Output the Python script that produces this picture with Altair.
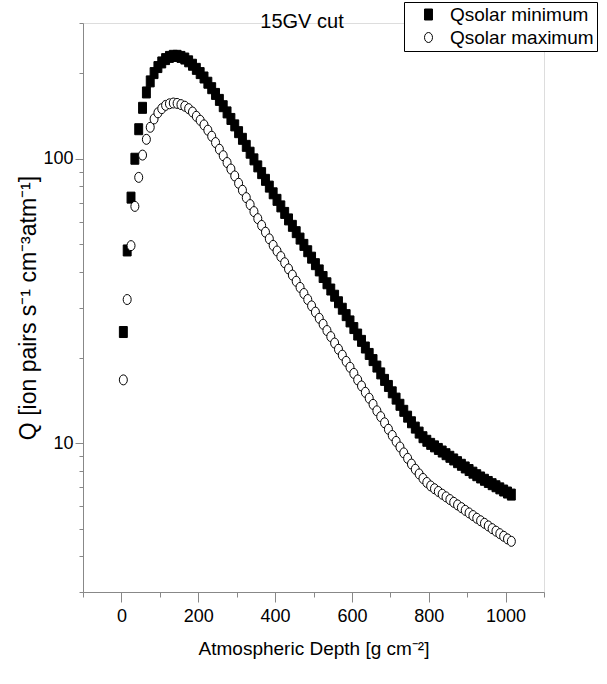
import altair as alt
import pandas as pd

# Atmospheric depth grid (g cm^-2)
depth = [5, 15, 25, 35, 45, 55, 65, 75, 85, 95,
         105, 115, 125, 135, 145, 155, 165, 175, 185, 195,
         205, 215, 225, 235, 245, 255, 265, 275, 285, 295,
         305, 315, 325, 335, 345, 355, 365, 375, 385, 395,
         405, 415, 425, 435, 445, 455, 465, 475, 485, 495,
         505, 515, 525, 535, 545, 555, 565, 575, 585, 595,
         605, 615, 625, 635, 645, 655, 665, 675, 685, 695,
         705, 715, 725, 735, 745, 755, 765, 775, 785, 795,
         805, 815, 825, 835, 845, 855, 865, 875, 885, 895,
         905, 915, 925, 935, 945, 955, 965, 975, 985, 995,
         1005, 1015]

# Q at solar minimum (filled squares)
q_min = [24.6, 47.6, 73, 100, 127, 151, 171, 187, 200, 210,
         218, 224, 228, 230, 230, 228, 225, 220, 214, 207,
         200, 193, 185, 177, 169, 161, 153, 145.5, 138, 131,
         124, 117.5, 111, 105, 99.5, 94, 89, 84.3, 79.8, 75.6,
         71.7, 68, 64.5, 61.2, 58.1, 55.2, 52.4, 49.8, 47.3, 44.9,
         42.6, 40.5, 38.4, 36.5, 34.7, 33.0, 31.3, 29.7, 28.2, 26.8,
         25.4, 24.1, 22.9, 21.7, 20.6, 19.6, 18.6, 17.6, 16.7, 15.9,
         15.1, 14.35, 13.65, 13.0, 12.4, 11.85, 11.35, 10.9, 10.5, 10.2,
         9.95, 9.75, 9.55, 9.35, 9.15, 8.96, 8.77, 8.58, 8.4, 8.22,
         8.05, 7.88, 7.72, 7.58, 7.44, 7.31, 7.18, 7.06, 6.94, 6.82,
         6.71, 6.6]

# Q at solar maximum (open circles)
q_max = [16.7, 32, 49.5, 68, 86, 103, 117, 129, 138, 145,
         150, 154, 156, 157, 156.5, 155, 153, 150, 146, 141,
         136.5, 131.5, 126, 120, 114, 108, 102.5, 97, 92, 87,
         82, 77.5, 73, 69, 65.2, 61.6, 58.3, 55.2, 52.3, 49.6,
         47.4, 45.3, 43.1, 41.0, 39.0, 37.1, 35.3, 33.6, 32.0, 30.4,
         28.9, 27.5, 26.2, 24.9, 23.7, 22.5, 21.4, 20.4, 19.4, 18.5,
         17.6, 16.7, 15.9, 15.1, 14.4, 13.7, 13.0, 12.4, 11.8, 11.2,
         10.65, 10.15, 9.7, 9.25, 8.85, 8.45, 8.1, 7.8, 7.52, 7.28,
         7.08, 6.92, 6.77, 6.62, 6.48, 6.34, 6.2, 6.07, 5.94, 5.81,
         5.69, 5.57, 5.45, 5.34, 5.23, 5.12, 5.01, 4.91, 4.81, 4.71,
         4.61, 4.52]

series_labels = ["Qsolar minimum", "Qsolar maximum"]
title_text = ["15GV cut"]
x_major = [0, 200, 400, 600, 800, 1000]
x_minor = [-100, 100, 300, 500, 700, 900, 1100]
y_major = [10, 100]
y_minor = [3, 4, 5, 6, 7, 8, 9, 20, 30, 40, 50, 60, 70, 80, 90, 200, 300]

df = pd.DataFrame({
    "depth": depth + depth,
    "Q": q_min + q_max,
    "series": [series_labels[0]] * len(depth) + [series_labels[1]] * len(depth),
})

FONT = "Liberation Sans, Arial, sans-serif"

# slightly tall symbols, as in the reference
SQUARE = "M-0.72,-1L0.72,-1L0.72,1L-0.72,1Z"
ELLIPSE = "M-0.8,0A0.8,1,0,1,0,0.8,0A0.8,1,0,1,0,-0.8,0Z"

xscale = alt.Scale(domain=[-100, 1100], nice=False, zero=False)
yscale = alt.Scale(type="log", domain=[3, 300], nice=False)

legend = alt.Legend(
    title=None, orient="none", legendX=321, legendY=-21,
    strokeColor="black", padding=3, fillColor="white",
    labelFont=FONT, labelFontSize=19, labelColor="black",
    symbolStrokeWidth=1, symbolOpacity=1, symbolOffset=12,
    rowPadding=3, labelOffset=12,
)

points = alt.Chart(df).mark_point(opacity=1, strokeWidth=1, filled=True).encode(
    x=alt.X("depth:Q", scale=xscale,
            axis=alt.Axis(values=x_major, title="Atmospheric Depth [g cm⁻²]", orient="bottom",
                          tickSize=10, labelPadding=5, grid=False, format="d",
                          titleFont=FONT, titleFontSize=19, titleFontWeight="normal",
                          titlePadding=14, labelFont=FONT, labelFontSize=18)),
    y=alt.Y("Q:Q", scale=yscale,
            axis=alt.Axis(values=y_major, title="Q [ion pairs s⁻¹ cm⁻³atm⁻¹]", orient="left",
                          tickSize=8, labelPadding=2, grid=False, format="d",
                          titleFont=FONT, titleFontSize=23, titleFontWeight="normal",
                          titlePadding=2, labelFont=FONT, labelFontSize=18)),
    shape=alt.Shape("series:N", scale=alt.Scale(domain=series_labels, range=[SQUARE, ELLIPSE]), legend=legend),
    fill=alt.Fill("series:N", scale=alt.Scale(domain=series_labels, range=["black", "white"]), legend=legend),
    stroke=alt.Stroke("series:N", scale=alt.Scale(domain=series_labels, range=["black", "black"]), legend=legend),
    size=alt.Size("series:N", scale=alt.Scale(domain=series_labels, range=[121, 100]), legend=legend),
    order=alt.Order("ord:Q"),
).transform_calculate(ord="datum.series == 'Qsolar minimum' ? 0 : 1")

minor = alt.Chart(df).mark_point(opacity=0).encode(
    x=alt.X("depth:Q", scale=xscale,
            axis=alt.Axis(values=x_minor, tickSize=5, labels=False, domain=False, grid=False,
                          title=None, orient="bottom")),
    y=alt.Y("Q:Q", scale=yscale,
            axis=alt.Axis(values=y_minor, tickSize=4, labels=False, domain=False, grid=False,
                          title=None, orient="left")),
)

title = alt.Chart(pd.DataFrame({"label": title_text})).mark_text(
    font=FONT, fontSize=20, color="black", align="center", baseline="middle"
).encode(text="label:N", x=alt.value(219), y=alt.value(-1))

chart = alt.layer(points, minor, title).resolve_axis(x="independent", y="independent").properties(
    width=461, height=569,
    autosize=alt.AutoSizeParams(type="none"),
    padding={"left": 83, "top": 23, "right": 63, "bottom": 92},
).configure_view(stroke=None).configure_axis(
    domainColor="black", tickColor="black", labelColor="black", titleColor="black",
    domainWidth=1, tickWidth=1,
).configure(background="white")

chart.save("out.html", embed_options={"renderer": "svg", "actions": False})
